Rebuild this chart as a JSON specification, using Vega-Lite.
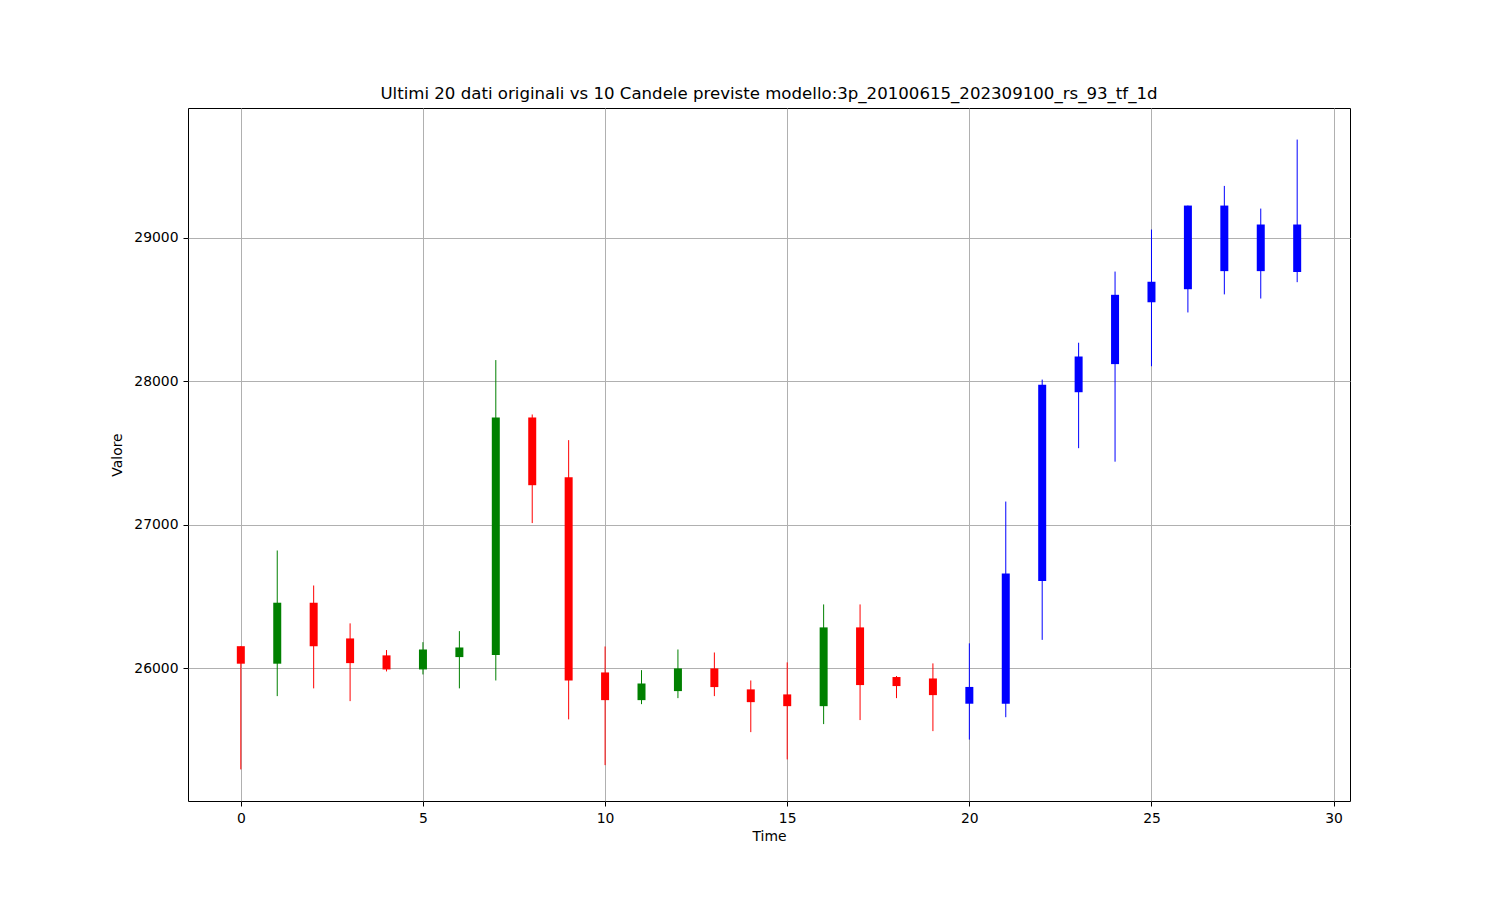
{
  "$schema": "https://vega.github.io/schema/vega-lite/v6.json",
  "width": 1162,
  "height": 693,
  "autosize": {"type": "none"},
  "padding": {"left": 188, "top": 108, "right": 150, "bottom": 99},
  "background": "white",
  "title": {
    "text": "Ultimi 20 dati originali vs 10 Candele previste modello:3p_20100615_202309100_rs_93_tf_1d",
    "font": "DejaVu Sans",
    "fontSize": 16.6,
    "fontWeight": "normal",
    "color": "black",
    "anchor": "middle",
    "offset": 5
  },
  "config": {
    "view": {"stroke": "black", "strokeWidth": 1},
    "axis": {
      "labelFont": "DejaVu Sans",
      "labelFontSize": 13.9,
      "labelColor": "black",
      "titleFont": "DejaVu Sans",
      "titleFontSize": 13.9,
      "titleFontWeight": "normal",
      "titleColor": "black",
      "tickColor": "black",
      "tickSize": 5,
      "tickWidth": 1,
      "domain": false,
      "grid": true,
      "gridColor": "#b0b0b0",
      "gridWidth": 1,
      "labelPadding": 5
    }
  },
  "data": {
    "values": [
      {"t": 0, "open": 26155, "high": 26155, "low": 25296, "close": 26033, "tipo": "ribasso"},
      {"t": 1, "open": 26033, "high": 26822, "low": 25807, "close": 26458, "tipo": "rialzo"},
      {"t": 2, "open": 26458, "high": 26578, "low": 25861, "close": 26155, "tipo": "ribasso"},
      {"t": 3, "open": 26209, "high": 26314, "low": 25772, "close": 26037, "tipo": "ribasso"},
      {"t": 4, "open": 26091, "high": 26128, "low": 25979, "close": 25993, "tipo": "ribasso"},
      {"t": 5, "open": 25993, "high": 26183, "low": 25958, "close": 26132, "tipo": "rialzo"},
      {"t": 6, "open": 26079, "high": 26260, "low": 25861, "close": 26146, "tipo": "rialzo"},
      {"t": 7, "open": 26093, "high": 28149, "low": 25916, "close": 27749, "tipo": "rialzo"},
      {"t": 8, "open": 27749, "high": 27770, "low": 27013, "close": 27277, "tipo": "ribasso"},
      {"t": 9, "open": 27333, "high": 27591, "low": 25645, "close": 25916, "tipo": "ribasso"},
      {"t": 10, "open": 25972, "high": 26153, "low": 25326, "close": 25779, "tipo": "ribasso"},
      {"t": 11, "open": 25779, "high": 25988, "low": 25751, "close": 25895, "tipo": "rialzo"},
      {"t": 12, "open": 25842, "high": 26132, "low": 25793, "close": 26000, "tipo": "rialzo"},
      {"t": 13, "open": 26000, "high": 26111, "low": 25807, "close": 25870, "tipo": "ribasso"},
      {"t": 14, "open": 25854, "high": 25916, "low": 25556, "close": 25765, "tipo": "ribasso"},
      {"t": 15, "open": 25819, "high": 26042, "low": 25366, "close": 25737, "tipo": "ribasso"},
      {"t": 16, "open": 25737, "high": 26446, "low": 25612, "close": 26286, "tipo": "rialzo"},
      {"t": 17, "open": 26286, "high": 26446, "low": 25640, "close": 25884, "tipo": "ribasso"},
      {"t": 18, "open": 25940, "high": 25947, "low": 25793, "close": 25877, "tipo": "ribasso"},
      {"t": 19, "open": 25930, "high": 26035, "low": 25563, "close": 25814, "tipo": "ribasso"},
      {"t": 20, "open": 25754, "high": 26175, "low": 25504, "close": 25871, "tipo": "previsione"},
      {"t": 21, "open": 25754, "high": 27163, "low": 25660, "close": 26662, "tipo": "previsione"},
      {"t": 22, "open": 26609, "high": 28013, "low": 26199, "close": 27977, "tipo": "previsione"},
      {"t": 23, "open": 27925, "high": 28270, "low": 27535, "close": 28174, "tipo": "previsione"},
      {"t": 24, "open": 28121, "high": 28766, "low": 27441, "close": 28604, "tipo": "previsione"},
      {"t": 25, "open": 28552, "high": 29059, "low": 28106, "close": 28695, "tipo": "previsione"},
      {"t": 26, "open": 28643, "high": 29226, "low": 28481, "close": 29226, "tipo": "previsione"},
      {"t": 27, "open": 28769, "high": 29363, "low": 28607, "close": 29226, "tipo": "previsione"},
      {"t": 28, "open": 28769, "high": 29205, "low": 28578, "close": 29094, "tipo": "previsione"},
      {"t": 29, "open": 28763, "high": 29686, "low": 28692, "close": 29094, "tipo": "previsione"}
    ]
  },
  "encoding": {
    "x": {
      "field": "t",
      "type": "quantitative",
      "scale": {"domain": [-1.45, 30.45], "nice": false, "zero": false, "padding": 0},
      "axis": {"title": "Time", "values": [0, 5, 10, 15, 20, 25, 30], "titlePadding": 5}
    },
    "color": {
      "field": "tipo",
      "type": "nominal",
      "scale": {"domain": ["rialzo", "ribasso", "previsione"], "range": ["#008000", "#ff0000", "#0000ff"]},
      "legend": null
    }
  },
  "layer": [
    {
      "mark": {"type": "rule", "strokeWidth": 1},
      "encoding": {
        "y": {
          "field": "low",
          "type": "quantitative",
          "scale": {"domain": [25076, 29906], "nice": false, "zero": false, "padding": 0},
          "axis": {"title": "Valore", "values": [26000, 27000, 28000, 29000], "format": "d", "titlePadding": 9}
        },
        "y2": {"field": "high"}
      }
    },
    {
      "mark": {"type": "bar", "size": 8},
      "encoding": {
        "y": {"field": "open", "type": "quantitative"},
        "y2": {"field": "close"}
      }
    }
  ]
}
